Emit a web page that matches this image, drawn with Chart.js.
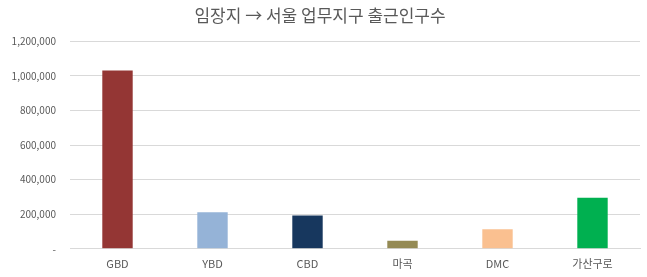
<!DOCTYPE html>
<html>
<head>
<meta charset="utf-8">
<script src="https://cdn.jsdelivr.net/npm/chart.js@4"></script>
<style>
  html, body { margin: 0; padding: 0; background: #fff; }
  #wrap { width: 647px; height: 277px; }
</style>
</head>
<body>
<div id="wrap"><canvas id="graphCanvas"></canvas></div>
<script>
var districts = ['GBD', 'YBD', 'CBD', '마곡', 'DMC', '가산구로'];
var commuters = [1032000, 212000, 193000, 47000, 113000, 296000];
var barColors = ['#943634', '#95B3D7', '#17375E', '#948A54', '#FAC090', '#00B050'];
var yTicks = [0, 200000, 400000, 600000, 800000, 1000000, 1200000];

var fontFamily = "'Noto Sans CJK KR', 'Noto Sans', sans-serif";

new Chart(document.getElementById('graphCanvas'), {
    type: 'bar',
    data: {
        labels: districts,
        datasets: [{
            label: '출근인구수',
            data: commuters,
            backgroundColor: barColors,
            borderWidth: 0,
            barPercentage: 0.64,
            categoryPercentage: 0.5
        }]
    },
    options: {
        responsive: true,
        maintainAspectRatio: false,
        animation: false,
        layout: { padding: { left: 0, right: 7, top: 5, bottom: 7 } },
        plugins: {
            legend: { display: false },
            tooltip: { enabled: false },
            title: {
                display: true,
                text: '임장지 → 서울 업무지구 출근인구수',
                color: '#595959',
                font: { family: fontFamily, size: 17, weight: 'normal' },
                padding: { top: 0, bottom: 16 }
            }
        },
        scales: {
            x: {
                grid: { display: false },
                border: { color: '#d9d9d9' },
                ticks: { color: '#595959', font: { family: fontFamily, size: 11 }, padding: 0 }
            },
            y: {
                min: 0,
                max: 1200000,
                afterBuildTicks: function(axis) {
                    axis.ticks = yTicks.map(function(v) { return { value: v }; });
                },
                afterFit: function(axis) { axis.width = 70; },
                grid: { color: '#d9d9d9', drawTicks: false },
                border: { display: false },
                ticks: {
                    color: '#595959',
                    font: { family: fontFamily, size: 10 },
                    padding: 14,
                    callback: function(v) {
                        return v === 0 ? '-' : v.toLocaleString('en-US');
                    }
                }
            }
        }
    }
});
</script>
</body>
</html>
